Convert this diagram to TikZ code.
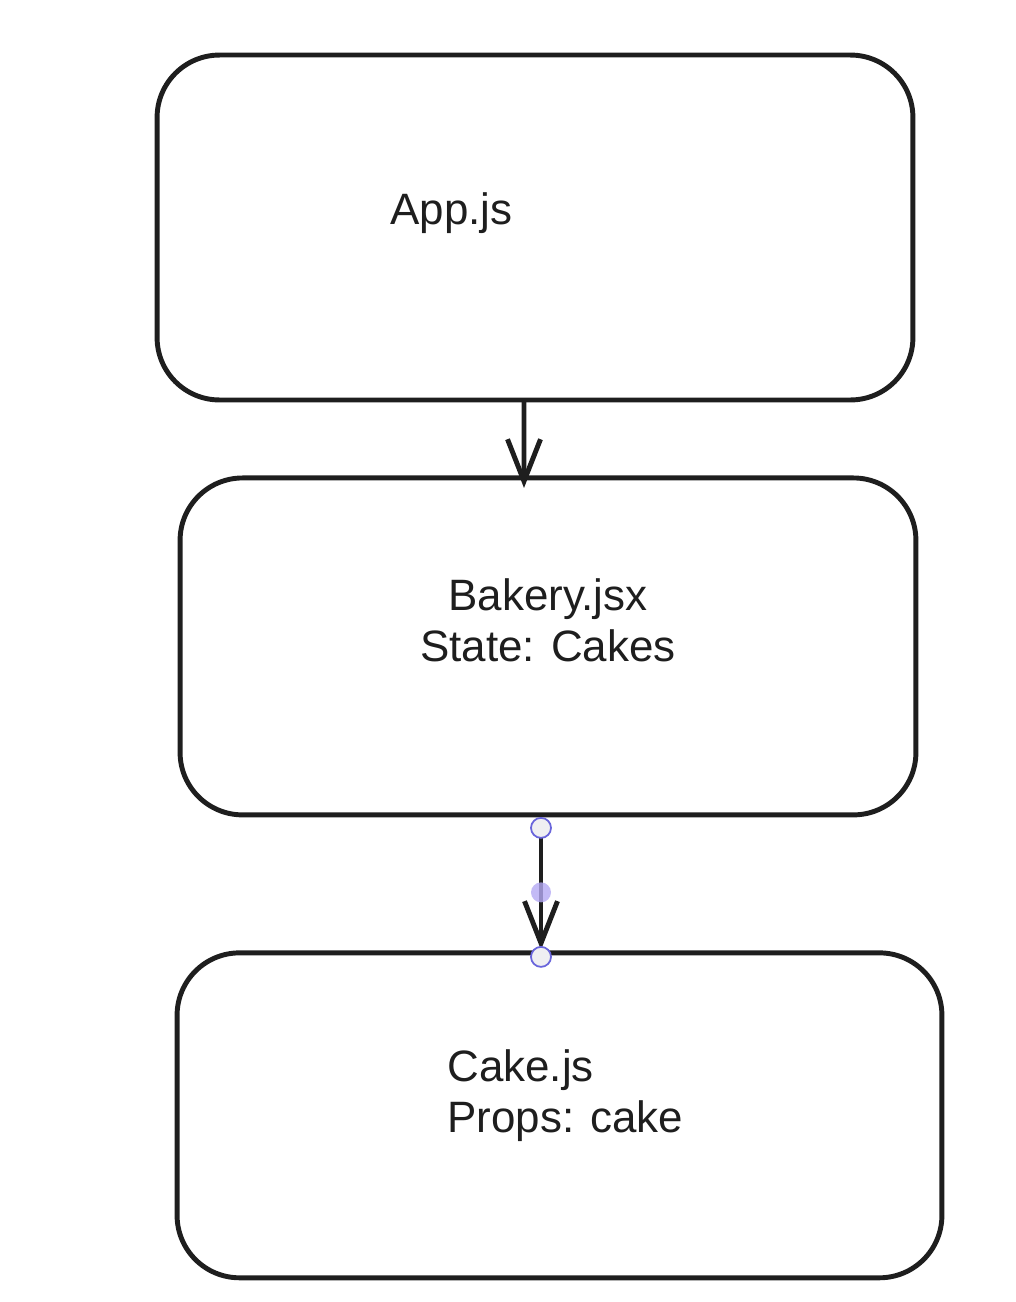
\documentclass[tikz,border=0pt]{standalone}
\usepackage{fontspec}
\setmainfont{Liberation Sans}
\usetikzlibrary{arrows.meta, positioning, calc}
\definecolor{ink}{HTML}{1E1E1E}
\definecolor{handle}{HTML}{6965DB}
\definecolor{handlefill}{HTML}{EFEFF2}
\definecolor{middot}{HTML}{B4A9F4}
\tikzstyle{block} = [rectangle, rounded corners=1.25cm, draw=ink, line width=2.8pt, outer sep=0pt]
\tikzstyle{label} = [text=ink, font=\fontsize{25}{29}\selectfont, inner sep=0pt]
\tikzstyle{arrow} = [draw=ink, line width=2.8pt, -{Straight Barb[length=0.84cm, width=0.66cm]}]
\tikzstyle{knob} = [draw=handle, fill=handlefill, line width=1pt]

\begin{document}
\begin{tikzpicture}[x=0.02cm, y=-0.02cm]
	\useasboundingbox (0,0) rectangle (1016,1302);
	\node (app) [block, minimum width=15.12cm, minimum height=6.9cm] at (535,227.5) {};
	\node (bakery) [block, minimum width=14.72cm, minimum height=6.74cm, below=1.56cm of app, xshift=0.26cm] {};
	\node (cake) [block, minimum width=15.3cm, minimum height=6.5cm, below=2.76cm of bakery, xshift=0.23cm] {};

	\node (apptxt) [label, anchor=base west] at (390,224) {App.js};
	\node (bakerytxt) [label, align=center] at (548,620) {Bakery.jsx\\ State: Cakes};
	\node (caketxt) [label, align=left, anchor=west] at (447,1096) {Cake.js\\Props: cake};

	\draw [arrow] ([xshift=-0.22cm]app.south) -- ([xshift=-0.48cm, yshift=-0.2cm]bakery.north);

	\coordinate (h1) at ([xshift=-0.14cm, yshift=-0.26cm]bakery.south);
	\coordinate (h2) at ([xshift=-0.37cm, yshift=-0.08cm]cake.north);
	\draw [arrow] (h1) -- ([yshift=0.14cm]h2);
	% selection handles
	\draw [knob] (h1) circle (0.2cm);
	\draw [knob] (h2) circle (0.2cm);
	\fill [middot, opacity=0.8] ($(h1)!0.5!(h2)$) circle (0.2cm);
\end{tikzpicture}
\end{document}
